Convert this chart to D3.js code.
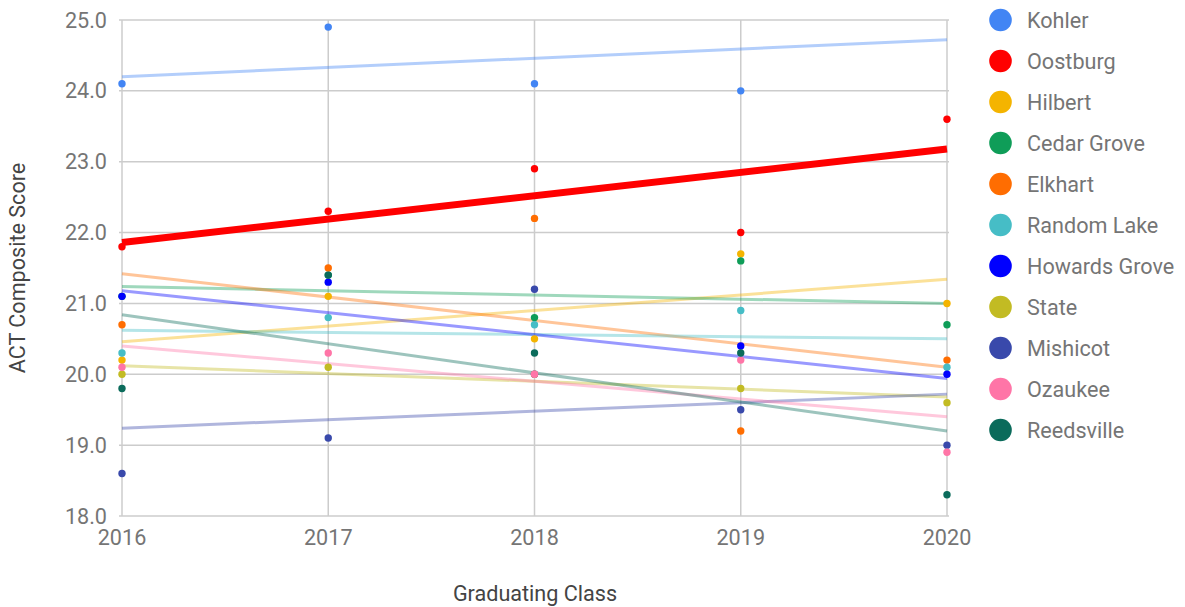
<!DOCTYPE html>
<html>
<head>
<meta charset="utf-8">
<script src="https://cdn.jsdelivr.net/npm/d3@7"></script>
<style>
  body { margin: 0; background: #fff; }
  text { font-family: Roboto, "Noto Sans", sans-serif; }
</style>
</head>
<body>
<svg id="chart" width="1185" height="607"></svg>
<script>
// data
const years = [2016, 2017, 2018, 2019, 2020]
const schools = ['Kohler', 'Oostburg', 'Hilbert', 'Cedar Grove', 'Elkhart', 'Random Lake',
  'Howards Grove', 'State', 'Mishicot', 'Ozaukee', 'Reedsville']
const colors = ['#4285f4', '#ff0000', '#f4b400', '#0f9d58', '#ff6d01', '#46bdc6',
  '#0000ff', '#c2bb23', '#3949ab', '#ff75a7', '#0b6b5b']
const kohler = [24.1, 24.9, 24.1, 24.0, 25.2]
const oostburg = [21.8, 22.3, 22.9, 22.0, 23.6]
const hilbert = [20.2, 21.1, 20.5, 21.7, 21.0]
const cedarGrove = [21.1, 21.4, 20.8, 21.6, 20.7]
const elkhart = [20.7, 21.5, 22.2, 19.2, 20.2]
const randomLake = [20.3, 20.8, 20.7, 20.9, 20.1]
const howardsGrove = [21.1, 21.3, 20.0, 20.4, 20.0]
const state = [20.0, 20.1, 20.0, 19.8, 19.6]
const mishicot = [18.6, 19.1, 21.2, 19.5, 19.0]
const ozaukee = [20.1, 20.3, 20.0, 20.2, 18.9]
const reedsville = [19.8, 21.4, 20.3, 20.3, 18.3]
const yTicks = [18, 19, 20, 21, 22, 23, 24, 25]

const seriesValues = [kohler, oostburg, hilbert, cedarGrove, elkhart, randomLake,
  howardsGrove, state, mishicot, ozaukee, reedsville]

const margins = { left: 122, right: 238, top: 20, bottom: 91 }
const width = 1185, height = 607
const fontSize = 21.6

const svg = d3.select('#chart')
const x = d3.scaleLinear().domain([2016, 2020]).range([margins.left, width - margins.right])
const y = d3.scaleLinear().domain([18, 25]).range([height - margins.bottom, margins.top])

// grid
const grid = svg.append('g')
grid.selectAll('.hg').data(yTicks).enter().append('line')
  .attr('x1', x(2016) - 3).attr('x2', x(2020) + 2)
  .attr('y1', d => y(d)).attr('y2', d => y(d))
  .attr('stroke', '#cccccc').attr('stroke-width', 1.5)
grid.selectAll('.vg').data(years).enter().append('line')
  .attr('x1', d => x(d)).attr('x2', d => x(d))
  .attr('y1', y(25)).attr('y2', y(18))
  .attr('stroke', '#cccccc').attr('stroke-width', 1.5)

// axis labels
svg.append('g').selectAll('text').data(yTicks).enter().append('text')
  .attr('x', 107).attr('y', d => y(d)).attr('dy', '0.35em')
  .attr('text-anchor', 'end').attr('fill', '#757575').attr('font-size', fontSize)
  .text(d => d.toFixed(1))
svg.append('g').selectAll('text').data(years).enter().append('text')
  .attr('x', d => x(d)).attr('y', 545)
  .attr('text-anchor', 'middle').attr('fill', '#757575').attr('font-size', fontSize)
  .text(d => d)

svg.append('text')
  .attr('transform', 'translate(25,268) rotate(-90)')
  .attr('text-anchor', 'middle').attr('fill', '#444').attr('font-size', fontSize)
  .text('ACT Composite Score')
svg.append('text')
  .attr('x', 535).attr('y', 601)
  .attr('text-anchor', 'middle').attr('fill', '#444').attr('font-size', fontSize)
  .text('Graduating Class')

svg.append('clipPath').attr('id', 'plot-clip').append('rect')
  .attr('x', x(2016) - 6).attr('y', y(25) - 4)
  .attr('width', x(2020) - x(2016) + 12).attr('height', y(18) - y(25) + 8)
const plot = svg.append('g').attr('clip-path', 'url(#plot-clip)')

// least squares trendline for each series
const fit = vals => {
  const mx = d3.mean(years), my = d3.mean(vals)
  const sxy = d3.sum(years, (yr, i) => (yr - mx) * (vals[i] - my))
  const sxx = d3.sum(years, yr => (yr - mx) * (yr - mx))
  const b = sxy / sxx
  return yr => my + b * (yr - mx)
}

seriesValues.forEach((vals, i) => {
  const f = fit(vals)
  const bold = schools[i] === 'Oostburg'
  plot.append('line')
    .attr('x1', x(2016)).attr('y1', y(f(2016)))
    .attr('x2', x(2020)).attr('y2', y(f(2020)))
    .attr('stroke', colors[i])
    .attr('stroke-width', bold ? 7 : 3)
    .attr('stroke-opacity', bold ? 1 : 0.4)
})

seriesValues.forEach((vals, i) => {
  plot.selectAll('.pt' + i).data(vals).enter().append('circle')
    .attr('cx', (d, j) => x(years[j]))
    .attr('cy', d => y(d))
    .attr('r', 3.7)
    .attr('fill', colors[i])
})

// legend
const legend = svg.append('g')
schools.forEach((s, i) => {
  const ly = 20 + i * 41
  legend.append('circle').attr('cx', 1000.5).attr('cy', ly).attr('r', 11.3).attr('fill', colors[i])
  legend.append('text').attr('x', 1027).attr('y', ly).attr('dy', '0.35em')
    .attr('fill', '#757575').attr('font-size', fontSize).text(s)
})
</script>
</body>
</html>
